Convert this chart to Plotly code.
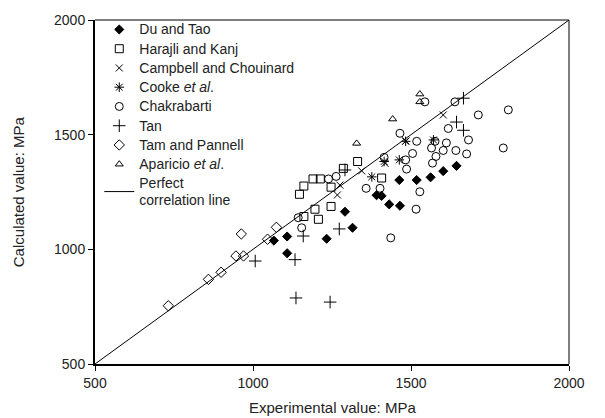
import plotly.graph_objects as go

du_x = [1066, 1108, 1108, 1233, 1291, 1315, 1391, 1407, 1431, 1465, 1463, 1518, 1562, 1602, 1644]
du_y = [1038, 1056, 983, 1046, 1164, 1094, 1236, 1233, 1196, 1190, 1302, 1302, 1314, 1341, 1364]

hk_x = [1147, 1161, 1190, 1213, 1286, 1247, 1331, 1247, 1196, 1161, 1207, 1407]
hk_y = [1240, 1276, 1307, 1307, 1353, 1271, 1383, 1187, 1175, 1143, 1131, 1311]

cc_x = [1275, 1267, 1344, 1602, 1484, 1418]
cc_y = [1280, 1237, 1342, 1586, 1473, 1375]

ck_x = [1376, 1415, 1483, 1463, 1571]
ck_y = [1316, 1383, 1471, 1390, 1477]

ch_x = [1239, 1263, 1143, 1154, 1402, 1436, 1415, 1465, 1483, 1486, 1639, 1713, 1808, 1618,
        1518, 1576, 1565, 1612, 1602, 1642, 1676, 1682, 1579, 1568, 1505, 1528, 1516, 1792,
        1544, 1358]
ch_y = [1307, 1318, 1138, 1094, 1266, 1050, 1401, 1506, 1390, 1350, 1643, 1586, 1608, 1527,
        1471, 1471, 1442, 1464, 1431, 1431, 1416, 1477, 1405, 1376, 1418, 1251, 1175, 1442,
        1643, 1266]

tan_x = [1007, 1133, 1136, 1244, 1273, 1291, 1159, 1644, 1666, 1666]
tan_y = [949, 955, 788, 770, 1089, 1346, 1058, 1555, 1519, 1659]

tp_x = [732, 859, 899, 946, 970, 963, 1046, 1074]
tp_y = [754, 869, 900, 971, 971, 1067, 1044, 1096]

ap_x = [1528, 1528, 1442, 1328]
ap_y = [1677, 1643, 1568, 1462]

line_x = [500, 2000]
line_y = [500, 2000]

tick_vals = [500, 1000, 1500, 2000]

series = [
    ("Du and Tao", du_x, du_y, "diamond", 7),
    ("Harajli and Kanj", hk_x, hk_y, "square-open", 8),
    ("Campbell and Chouinard", cc_x, cc_y, "x-thin-open", 7),
    ("Cooke <i>et al</i>.", ck_x, ck_y, "asterisk-open", 8),
    ("Chakrabarti", ch_x, ch_y, "circle-open", 8),
    ("Tan", tan_x, tan_y, "cross-thin-open", 9),
    ("Tam and Pannell", tp_x, tp_y, "diamond-open", 8),
    ("Aparicio <i>et al</i>.", ap_x, ap_y, "triangle-up-open", 7),
]

def big(t):
    return '<span style="font-size:14px">' + t + '</span>'

fig = go.Figure()
for name, xs, ys, sym, sz in series:
    fig.add_trace(go.Scatter(
        x=xs, y=ys, mode="markers", name=big(name),
        marker=dict(symbol=sym, size=sz, color="black",
                    line=dict(color="black", width=1)),
    ))

fig.add_trace(go.Scatter(
    x=line_x, y=line_y, mode="lines",
    name=big("Perfect") + "<br>" + big("correlation line"),
    line=dict(color="black", width=1),
))

axis_common = dict(
    range=[500, 2000], tickvals=tick_vals,
    showgrid=False, zeroline=False, showline=True, linecolor="black",
    linewidth=2, ticks="outside", ticklen=5, tickwidth=1, tickcolor="black",
    tickfont=dict(size=14, color="#222"), automargin=False,
)
fig.update_xaxes(**axis_common)
fig.update_yaxes(**axis_common)

# thin top and right frame lines
fig.add_shape(type="line", xref="paper", yref="paper", x0=0, x1=1, y0=1, y1=1,
              line=dict(color="black", width=1))
fig.add_shape(type="line", xref="paper", yref="paper", x0=1, x1=1, y0=0, y1=1,
              line=dict(color="black", width=1))

fig.add_annotation(text="Experimental value: MPa", xref="paper", yref="paper",
                   x=0.5, y=-0.125, xanchor="center", yanchor="middle",
                   showarrow=False, font=dict(size=15, color="#222"))
fig.add_annotation(text="Calculated value: MPa", xref="paper", yref="paper",
                   x=-0.162, y=0.5, xanchor="center", yanchor="middle",
                   textangle=-90, showarrow=False, font=dict(size=15, color="#222"))

fig.update_layout(
    width=605, height=418,
    margin=dict(l=95, r=36, t=20, b=54, autoexpand=False),
    plot_bgcolor="white", paper_bgcolor="white",
    font=dict(family="Liberation Sans, Arial, sans-serif", color="#222"),
    legend=dict(x=0.009, y=1.015, xanchor="left", yanchor="top",
                font=dict(size=12.5, color="#222"), bgcolor="rgba(0,0,0,0)",
                borderwidth=0, tracegroupgap=0),
    showlegend=True,
)
try:
    fig.update_layout(legend_maxheight=1.0)
except Exception:
    pass

fig.write_html("out.html", config={"displayModeBar": False},
               post_script="document.body.style.margin='0px';")
